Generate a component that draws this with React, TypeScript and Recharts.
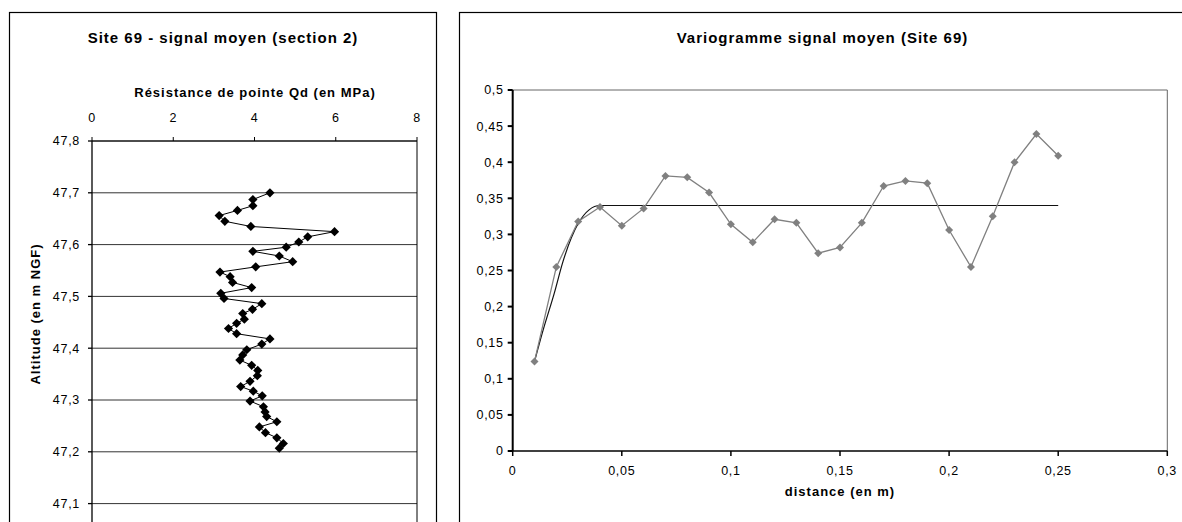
import { ScatterChart, Scatter, XAxis, YAxis, CartesianGrid, ReferenceLine } from 'recharts';

// profil Qd (MPa) / altitude (m NGF)
const qd = [
    4.38, 3.96, 3.96, 3.58, 3.13, 3.27, 3.91, 5.97, 5.31, 5.09,
    4.78, 3.96, 4.61, 4.94, 4.03, 3.15, 3.40, 3.46, 3.93, 3.17,
    3.25, 4.18, 3.95, 3.71, 3.75, 3.56, 3.36, 3.56, 4.38, 4.18,
    3.81, 3.71, 3.64, 3.93, 4.08, 4.07, 3.89, 3.66, 3.97, 4.19,
    3.89, 4.22, 4.26, 4.30, 4.55, 4.12, 4.27, 4.55, 4.71, 4.61,
];
const altitude = [
    47.700, 47.687, 47.675, 47.666, 47.656, 47.645, 47.635, 47.625, 47.615, 47.605,
    47.595, 47.587, 47.578, 47.567, 47.557, 47.547, 47.538, 47.527, 47.517, 47.506,
    47.496, 47.486, 47.475, 47.467, 47.456, 47.448, 47.438, 47.428, 47.418, 47.408,
    47.397, 47.387, 47.377, 47.367, 47.357, 47.347, 47.336, 47.326, 47.317, 47.308,
    47.298, 47.287, 47.277, 47.268, 47.258, 47.248, 47.237, 47.227, 47.216, 47.207,
];
const qdTicks = [0, 2, 4, 6, 8];
const altitudeTicks = [47.1, 47.2, 47.3, 47.4, 47.5, 47.6, 47.7, 47.8];

// variogramme expérimental
const distance = [
    0.01, 0.02, 0.03, 0.04, 0.05, 0.06, 0.07, 0.08, 0.09, 0.10,
    0.11, 0.12, 0.13, 0.14, 0.15, 0.16, 0.17, 0.18, 0.19, 0.20,
    0.21, 0.22, 0.23, 0.24, 0.25,
];
const gamma = [
    0.124, 0.255, 0.318, 0.338, 0.312, 0.336, 0.381, 0.379, 0.358, 0.314,
    0.289, 0.321, 0.316, 0.274, 0.282, 0.316, 0.367, 0.374, 0.371, 0.306,
    0.255, 0.325, 0.400, 0.439, 0.409,
];
// modèle ajusté (courbe noire)
const modelDistance = [0.01, 0.014, 0.019, 0.023, 0.03, 0.035, 0.04, 0.25];
const modelGamma = [0.124, 0.168, 0.218, 0.262, 0.315, 0.334, 0.34, 0.34];
const distanceTicks = [0, 0.05, 0.1, 0.15, 0.2, 0.25, 0.3];
const gammaTicks = [0, 0.05, 0.1, 0.15, 0.2, 0.25, 0.3, 0.35, 0.4, 0.45, 0.5];

const FONT = '"Liberation Sans", Arial, sans-serif';
const comma = (v: number) => String(v).replace('.', ',');
const tickStyle = { fill: '#000', fontSize: 12.5, fontFamily: FONT, letterSpacing: 0.7 };

const profileData = qd.map((q, i) => ({ x: q, y: altitude[i] }));
const variogramData = distance.map((d, i) => ({ x: d, y: gamma[i] }));
const modelData = modelDistance.map((d, i) => ({ x: d, y: modelGamma[i] }));

function diamond(r: number) {
    return (props: any) => {
        const { cx, cy, fill } = props;
        if (cx == null || cy == null) return <g />;
        return <path d={`M${cx},${cy - r}L${cx + r},${cy}L${cx},${cy + r}L${cx - r},${cy}Z`} fill={fill} />;
    };
}

function ProfileChart() {
    return (
        <ScatterChart width={440} height={620} margin={{ top: 111, right: 23, bottom: 64.6, left: 32 }}>
            <CartesianGrid vertical={false} stroke="#333" />
            <XAxis
                type="number"
                dataKey="x"
                orientation="top"
                domain={[0, 8]}
                ticks={qdTicks}
                height={30}
                tickSize={4}
                tickMargin={15}
                stroke="#000"
                tick={tickStyle}
            />
            <YAxis
                type="number"
                dataKey="y"
                domain={[47.0, 47.8]}
                ticks={altitudeTicks}
                width={60}
                tickSize={4}
                tickMargin={8}
                stroke="#000"
                strokeWidth={1.3}
                tick={tickStyle}
                tickFormatter={(v: number) => v.toFixed(1).replace('.', ',')}
            />
            <ReferenceLine x={8} stroke="#000" />
            <Scatter
                data={profileData}
                fill="#000"
                line={{ stroke: '#000', strokeWidth: 1 }}
                shape={diamond(4.6)}
                isAnimationActive={false}
            />
        </ScatterChart>
    );
}

function VariogramChart() {
    return (
        <ScatterChart width={800} height={540} margin={{ top: 90, right: 72.7, bottom: 59, left: 22.7 }}>
            <XAxis
                type="number"
                dataKey="x"
                domain={[0, 0.3]}
                ticks={distanceTicks}
                height={30}
                tickSize={5}
                tickMargin={10}
                stroke="#000"
                strokeWidth={1.5}
                tick={tickStyle}
                tickFormatter={comma}
            />
            <YAxis
                type="number"
                dataKey="y"
                domain={[0, 0.5]}
                ticks={gammaTicks}
                width={50}
                tickSize={5}
                tickMargin={4}
                stroke="#000"
                strokeWidth={2}
                tick={tickStyle}
                tickFormatter={comma}
            />
            <ReferenceLine y={0.5} stroke="#666" />
            <ReferenceLine x={0.3} stroke="#666" />
            <Scatter
                data={modelData}
                fill="#000"
                line={{ stroke: '#111', strokeWidth: 1.2 }}
                lineJointType="monotoneX"
                shape={() => <g />}
                isAnimationActive={false}
            />
            <Scatter
                data={variogramData}
                fill="#808080"
                line={{ stroke: '#808080', strokeWidth: 1.3 }}
                shape={diamond(4)}
                isAnimationActive={false}
            />
        </ScatterChart>
    );
}

export default function App() {
    return (
        <div style={{ position: 'absolute', left: 0, top: 0, width: 1182, height: 522, overflow: 'hidden', background: '#fff' }}>
            <svg width={1182} height={522} style={{ position: 'absolute', left: 0, top: 0 }} fontFamily={FONT}>
                <rect x={9.5} y={12.5} width={427} height={600} fill="none" stroke="#000" strokeWidth={1.2} />
                <rect x={459.5} y={12.5} width={800} height={600} fill="none" stroke="#000" strokeWidth={1.2} />
                <text x={223} y={43} textAnchor="middle" fontSize={15} fontWeight="bold" letterSpacing={1}>
                    Site 69 - signal moyen (section 2)
                </text>
                <text x={255} y={96.5} textAnchor="middle" fontSize={13} fontWeight="bold" letterSpacing={1}>
                    Résistance de pointe Qd (en MPa)
                </text>
                <text x={40} y={314} textAnchor="middle" fontSize={13} fontWeight="bold" letterSpacing={1} transform="rotate(-90 40 314)">
                    Altitude (en m NGF)
                </text>
                <text x={676.7} y={42.7} fontSize={15} fontWeight="bold" letterSpacing={1}>
                    Variogramme signal moyen (Site 69)
                </text>
                <text x={840} y={495.5} textAnchor="middle" fontSize={13} fontWeight="bold" letterSpacing={1}>
                    distance (en m)
                </text>
            </svg>
            <div style={{ position: 'absolute', left: 0, top: 0 }}>
                <ProfileChart />
            </div>
            <div style={{ position: 'absolute', left: 440, top: 0 }}>
                <VariogramChart />
            </div>
        </div>
    );
}
